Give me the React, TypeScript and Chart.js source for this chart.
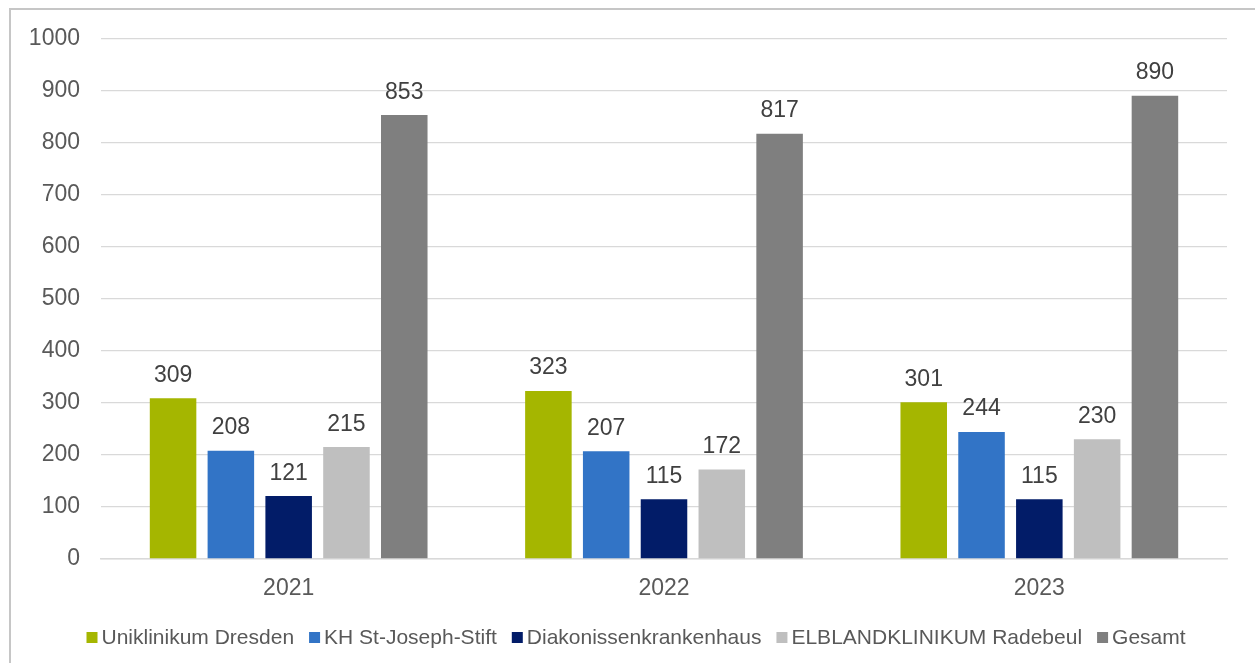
import React, { useEffect, useRef } from "react";
import { Chart, registerables } from "chart.js";

Chart.register(...registerables);

const categories = ["2021", "2022", "2023"];
const seriesNames = [
  "Uniklinikum Dresden",
  "KH St-Joseph-Stift",
  "Diakonissenkrankenhaus",
  "ELBLANDKLINIKUM Radebeul",
  "Gesamt",
];
const uniklinikum = [309, 323, 301];
const josephStift = [208, 207, 244];
const diakonissen = [121, 115, 115];
const elbland = [215, 172, 230];
const gesamt = [853, 817, 890];
const seriesColors = ["#a5b600", "#3274c6", "#021c68", "#bfbfbf", "#7f7f7f"];
const yTicks = [0, 100, 200, 300, 400, 500, 600, 700, 800, 900, 1000];

const FONT = '"Liberation Sans", Arial, sans-serif';

const framePlugin = {
  id: "frame",
  beforeDraw(chart: any) {
    const ctx = chart.ctx;
    ctx.save();
    ctx.fillStyle = "#ffffff";
    ctx.fillRect(0, 0, chart.width, chart.height);
    ctx.strokeStyle = "#c6c6c6";
    ctx.lineWidth = 2;
    ctx.strokeRect(10, 9, chart.width + 50, chart.height + 50);
    ctx.restore();
  },
};

const valueLabelPlugin = {
  id: "valueLabels",
  afterDatasetsDraw(chart: any) {
    const ctx = chart.ctx;
    ctx.save();
    ctx.font = `23px ${FONT}`;
    ctx.fillStyle = "#404040";
    ctx.textAlign = "center";
    ctx.textBaseline = "alphabetic";
    chart.data.datasets.forEach((ds: any, i: number) => {
      const meta = chart.getDatasetMeta(i);
      meta.data.forEach((bar: any, j: number) => {
        ctx.fillText(String(ds.data[j]), bar.x, bar.y - 16.5);
      });
    });
    ctx.restore();
  },
};

const legendPlugin = {
  id: "customLegend",
  afterDraw(chart: any) {
    const ctx = chart.ctx;
    ctx.save();
    ctx.font = `21px ${FONT}`;
    ctx.textBaseline = "middle";
    ctx.textAlign = "left";
    let x = 86.5;
    const boxY = 632;
    const box = 11;
    seriesNames.forEach((name, i) => {
      ctx.fillStyle = seriesColors[i];
      ctx.fillRect(x, boxY, box, box);
      x += box + 4;
      ctx.fillStyle = "#595959";
      ctx.fillText(name, x, boxY + box / 2 + 0.5);
      x += ctx.measureText(name).width + 15;
    });
    ctx.restore();
  },
};

export default function App() {
  const ref = useRef<HTMLCanvasElement | null>(null);

  useEffect(() => {
    document.body.style.overflow = "hidden";
    const canvas = ref.current;
    if (!canvas) return;
    const values = [uniklinikum, josephStift, diakonissen, elbland, gesamt];
    const chart = new Chart(canvas, {
      type: "bar",
      data: {
        labels: categories,
        datasets: seriesNames.map((name, i) => ({
          label: name,
          data: values[i],
          backgroundColor: seriesColors[i],
          borderWidth: 0,
          categoryPercentage: 0.77,
          barPercentage: 0.805,
        })),
      },
      options: {
        animation: false,
        responsive: false,
        devicePixelRatio: 1,
        layout: { padding: { left: 21, right: 28, top: 38.5, bottom: 0 } },
        plugins: {
          legend: { display: false },
          tooltip: { enabled: false },
        },
        scales: {
          x: {
            grid: { display: false, drawTicks: false },
            border: { display: true, color: "#d9d9d9", width: 1.5 },
            ticks: {
              color: "#595959",
              font: { family: FONT, size: 23 },
              padding: 16,
            },
            afterFit(s: any) {
              s.height = 104;
            },
          },
          y: {
            min: 0,
            max: 1000,
            afterBuildTicks(s: any) {
              s.ticks = yTicks.map((v) => ({ value: v }));
            },
            grid: { color: "#d9d9d9", lineWidth: 1.3, drawTicks: false },
            border: { display: false },
            ticks: {
              color: "#595959",
              font: { family: FONT, size: 23 },
              padding: 21,
              callback: (v: any) => String(v),
            },
            afterFit(s: any) {
              s.width = 80;
            },
          },
        },
      },
      plugins: [framePlugin, valueLabelPlugin, legendPlugin],
    });
    return () => chart.destroy();
  }, []);

  return (
    <div style={{ position: "fixed", left: 0, top: 0, width: 1255, height: 663 }}>
      <canvas ref={ref} width={1255} height={663} style={{ display: "block" }} />
    </div>
  );
}
